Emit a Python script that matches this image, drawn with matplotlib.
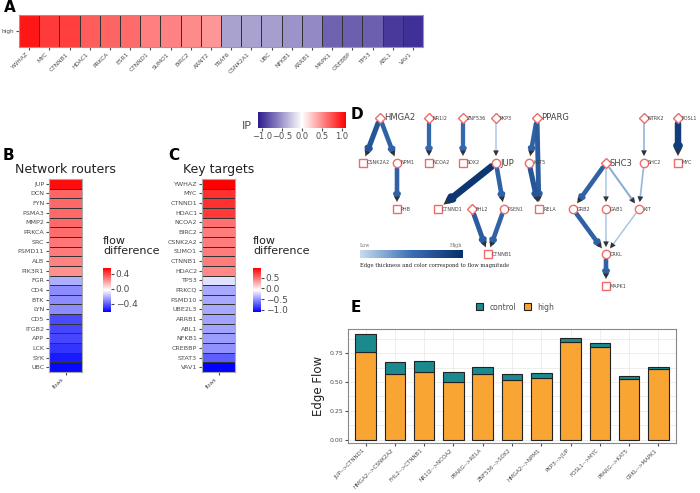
import matplotlib
matplotlib.use("Agg")
import matplotlib.pyplot as plt
import numpy as np
from matplotlib.colors import LinearSegmentedColormap, Normalize

# ---- data ----
a_genes = ["YWHAZ","MYC","CTNNB1","HDAC1","PRKCA","ESR1","CTNND1","SUMO1","BIRC2","ARNT2",
           "TRAF6","CSNK2A1","UBC","NFKB1","ARRB1","MAPK1","CREBBP","TP53","ABL1","VAV1"]
a_vals = [1.0,0.85,0.83,0.7,0.67,0.64,0.55,0.54,0.5,0.45,
          -0.45,-0.45,-0.47,-0.52,-0.56,-0.75,-0.77,-0.77,-0.95,-1.0]
b_genes = ["JUP","DCN","FYN","PSMA3","MMP2","PRKCA","SRC","PSMD11","ALB","PIK3R1",
           "FGR","CD4","BTK","LYN","CD5","ITGB2","APP","LCK","SYK","UBC"]
b_vals = [0.52,0.32,0.31,0.31,0.31,0.30,0.28,0.27,0.25,0.22,
          -0.22,-0.3,-0.3,-0.3,-0.45,-0.46,-0.46,-0.5,-0.56,-0.6]
c_genes = ["YWHAZ","MYC","CTNND1","HDAC1","NCOA2","BIRC2","CSNK2A2","SUMO1","CTNNB1","HDAC2",
           "TP53","PRKCQ","PSMD10","UBE2L3","ARRB1","ABL1","NFKB1","CREBBP","STAT3","VAV1"]
c_vals = [0.95,0.75,0.75,0.72,0.5,0.45,0.45,0.45,0.45,0.4,
          -0.2,-0.42,-0.42,-0.42,-0.45,-0.45,-0.47,-0.52,-0.72,-1.1]

nodes = {  # name: (x, y, shape)
 "HMGA2":(380,118,"D"),"NR1I2":(429,118,"D"),"ZNF536":(463,118,"D"),"PKP3":(496,118,"D"),
 "PPARG":(537,118,"D"),"NTRK2":(644,118,"D"),"FOSL1":(678,118,"D"),
 "CSNK2A2":(363,163,"s"),"NPM1":(397,163,"o"),"NCOA2":(429,163,"s"),"SOX2":(463,163,"s"),
 "JUP":(496,163,"o"),"KAT5":(529,163,"o"),"SHC3":(606,163,"D"),"SHC2":(644,163,"o"),"MYC":(678,163,"s"),
 "PHB":(397,209,"s"),"CTNND1":(438,209,"s"),"FHL2":(472,209,"D"),"PSEN1":(504,209,"o"),
 "RELA":(539,209,"s"),"GRB2":(573,209,"o"),"GAB1":(606,209,"o"),"KIT":(639,209,"o"),
 "CTNNB1":(488,254,"s"),"CRKL":(606,254,"o"),"MAPK1":(606,286,"s")}
big = {"HMGA2","SHC3","JUP","PPARG"}
edges = [("HMGA2","CSNK2A2",0.7),("HMGA2","NPM1",0.6),("NPM1","PHB",0.6),("NR1I2","NCOA2",0.55),
 ("ZNF536","SOX2",0.55),("PKP3","JUP",0.1),("JUP","CTNND1",0.95),("JUP","PSEN1",0.6),
 ("PSEN1","CTNNB1",0.6),("FHL2","CTNNB1",0.65),("PPARG","KAT5",0.6),("PPARG","RELA",0.65),
 ("KAT5","RELA",0.7),("SHC3","GRB2",0.6),("SHC3","GAB1",0.1),("SHC3","KIT",0.2),
 ("NTRK2","SHC2",0.15),("SHC2","KIT",0.15),("GRB2","CRKL",0.6),("GAB1","CRKL",0.1),
 ("KIT","CRKL",0.1),("CRKL","MAPK1",0.6),("FOSL1","MYC",0.9)]

e_labels = ["JUP-->CTNND1","HMGA2-->CSNK2A2","FHL2-->CTNNB1","NR1I2-->NCOA2","PPARG-->RELA",
            "ZNF536-->SOX2","HMGA2-->NPM1","PKP3-->JUP","FOSL1-->MYC","PPARG-->KAT5","CRKL-->MAPK1"]
e_high = [0.76,0.568,0.585,0.497,0.565,0.515,0.532,0.847,0.806,0.524,0.615]
e_total = [0.915,0.676,0.685,0.588,0.626,0.571,0.579,0.88,0.838,0.55,0.629]

W, H = 700, 493
fig = plt.figure(figsize=(7, 4.93), dpi=100)
def ax_px(x0, y0, x1, y1):
    return fig.add_axes([x0/W, 1-y1/H, (x1-x0)/W, (y1-y0)/H])
def ftext(x, y, s, **kw):
    fig.text(x/W, 1-y/H, s, **kw)

gray = "#4d4d4d"
cmap_ip = LinearSegmentedColormap.from_list("ip", ["#2d1b8e", "#ffffff", "#ff0000"])
cmap_fd = LinearSegmentedColormap.from_list("fd", ["#0000ff", "#ffffff", "#ff0000"])

# ---- A ----
ax = ax_px(19, 15, 423, 47)
norm_a = Normalize(-1.1, 1.1)
ax.pcolormesh(np.arange(len(a_genes)+1), [0, 1], np.array([a_vals]), cmap=cmap_ip, norm=norm_a,
              edgecolors="#333333", linewidth=0.5)
ax.set_xticks(np.arange(len(a_genes))+0.5)
ax.set_xticklabels(a_genes, rotation=45, ha="right", fontsize=4.2, color=gray)
ax.set_yticks([0.5]); ax.set_yticklabels(["high"], fontsize=4.2, color=gray)
for s in ax.spines.values(): s.set_color("#999999")
ax.tick_params(length=2, colors=gray, pad=1.5)
ftext(4, 12, "A", fontsize=11, fontweight="bold")
# IP colorbar
cax = ax_px(258, 112, 346, 128)
sm = matplotlib.cm.ScalarMappable(norm=norm_a, cmap=cmap_ip)
cb = fig.colorbar(sm, cax=cax, orientation="horizontal", ticks=[-1, -0.5, 0, 0.5, 1])
cb.ax.set_xticklabels(["\u22121.0", "\u22120.5", "0.0", "0.5", "1.0"])
cb.ax.tick_params(labelsize=6, colors=gray, length=2, pad=1)
cb.outline.set_visible(False)
ftext(242, 126, "IP", fontsize=8, color=gray, va="center")

# ---- B & C ----
def heat(x0, genes, vals, vmin, vmax, title, letter, lx, ticks, cbx):
    ax = ax_px(x0, 179, x0+33, 372)
    norm = Normalize(vmin, vmax)
    ax.pcolormesh([0, 1], np.arange(len(genes)+1), np.array([vals[::-1]]).T, cmap=cmap_fd,
                  norm=norm, edgecolors="#333333", linewidth=0.4)
    ax.set_yticks(np.arange(len(genes))+0.5)
    ax.set_yticklabels(genes[::-1], fontsize=4.6, color=gray)
    ax.set_xticks([0.5]); ax.set_xticklabels(["flows"], rotation=45, ha="right", fontsize=3.8, color=gray)
    ax.tick_params(length=2, colors=gray, pad=1.5)
    for s in ax.spines.values(): s.set_color("#aaaaaa")
    ax.set_title(title, fontsize=9, color="#222222", pad=4)
    ftext(lx, 160, letter, fontsize=11, fontweight="bold")
    cax = ax_px(cbx, 268, cbx+8, 312)
    sm = matplotlib.cm.ScalarMappable(norm=norm, cmap=cmap_fd)
    cb = fig.colorbar(sm, cax=cax, ticks=ticks)
    cb.ax.set_yticklabels([("\u2212" if t < 0 else "") + f"{abs(t):.1f}" for t in ticks])
    cb.ax.tick_params(labelsize=6.5, colors=gray, length=2, pad=1.5)
    cb.outline.set_visible(False)
    ftext(cbx, 246, "flow\ndifference", fontsize=8, color="#222222", va="center", linespacing=1.1)
heat(49, b_genes, b_vals, -0.62, 0.55, "Network routers", "B", 3, [0.4, 0.0, -0.4], 103)
heat(202, c_genes, c_vals, -1.1, 0.95, "Key targets", "C", 168, [0.5, 0.0, -0.5, -1.0], 253)

# ---- D ----
axd = ax_px(340, 100, 700, 300)
axd.set_xlim(340, 700); axd.set_ylim(300, 100); axd.axis("off")
cmap_e = LinearSegmentedColormap.from_list("e", ["#c6dbef", "#3a6fb5", "#08306b"])
for s, t, w in edges:
    x0, y0, _ = nodes[s]; x1, y1, _ = nodes[t]
    axd.annotate("", xy=(x1, y1), xytext=(x0, y0),
                 arrowprops=dict(arrowstyle="-|>,head_length=0.4,head_width=0.2", color=cmap_e(w),
                                 lw=0.6+4.5*w, shrinkA=4, shrinkB=5, mutation_scale=6))
    axd.annotate("", xy=(x1, y1), xytext=(x0, y0),
                 arrowprops=dict(arrowstyle="-|>,head_length=0.5,head_width=0.25", color="#333333",
                                 lw=0.01, shrinkA=4, shrinkB=5, mutation_scale=8))
for n, (x, y, m) in nodes.items():
    axd.plot(x, y, marker=m, ms=6 if m != "D" else 5.5, mfc="white", mec="#ef6b6b", mew=1.0, zorder=5)
    axd.text(x+4, y, n, fontsize=6 if n in big else 3.5, color="#444444", va="center", ha="left", zorder=6)
grad = axd.inset_axes([360, 250, 102, 8], transform=axd.transData)
grad.imshow(np.linspace(0, 1, 100)[None, :], aspect="auto", cmap=cmap_e)
grad.axis("off")
axd.text(360, 248, "Low", fontsize=3.5, color="#777777", va="bottom", family="DejaVu Serif")
axd.text(462, 248, "High", fontsize=3.5, color="#777777", va="bottom", ha="right", family="DejaVu Serif")
axd.text(360, 265, "Edge thickness and color correspond to flow magnitude", fontsize=3.8,
         color="#222222", va="center", family="DejaVu Serif")
ftext(351, 119, "D", fontsize=11, fontweight="bold")

# ---- E ----
axe = ax_px(348, 329, 676, 443)
x = np.arange(len(e_labels))
ctrl = np.array(e_total) - np.array(e_high)
axe.bar(x, e_high, width=0.7, color="#f9a533", edgecolor="#222222", linewidth=0.8, label="high", zorder=3)
axe.bar(x, ctrl, bottom=e_high, width=0.7, color="#1a8a8f", edgecolor="#222222", linewidth=0.8,
        label="control", zorder=3)
axe.set_xlim(-0.6, len(e_labels)-0.4); axe.set_ylim(-0.03, 0.96)
axe.set_yticks([0, 0.25, 0.5, 0.75]); axe.set_yticklabels(["0.00", "0.25", "0.50", "0.75"])
axe.set_xticks(x); axe.set_xticklabels(e_labels, rotation=45, ha="right", fontsize=4, color=gray)
axe.tick_params(axis="y", labelsize=4.5, colors=gray, length=2, pad=1.5)
axe.tick_params(axis="x", length=2, colors=gray, pad=1.5)
axe.set_yticks([0.125, 0.375, 0.625, 0.875], minor=True)
axe.tick_params(axis="y", which="minor", length=0)
axe.grid(True, which="both", color="#ebebeb", lw=0.6, zorder=0)
for s in axe.spines.values(): s.set_color("#888888")
axe.set_ylabel("Edge Flow", fontsize=8.5, color="#222222", labelpad=3)
h, l = axe.get_legend_handles_labels()
fig.legend(h[::-1], l[::-1], loc="center", bbox_to_anchor=(515/W, 1-307/H), ncol=2, fontsize=5.5,
           frameon=False, handlelength=1, handleheight=1, columnspacing=1, labelcolor=gray)
ftext(351, 312, "E", fontsize=11, fontweight="bold")

fig.savefig("out.png", dpi=100)
